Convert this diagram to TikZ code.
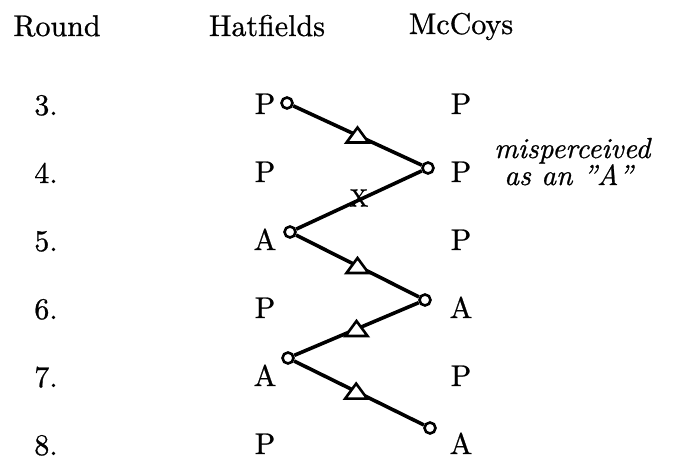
\documentclass[tikz,border=0pt]{standalone}
\usepackage{fontspec}
\setmainfont{lmroman10-regular.otf}[ItalicFont=lmroman10-italic.otf, FakeBold=0.8]
\usepackage{tikz}
\usetikzlibrary{calc,positioning}

\begin{document}
\begin{tikzpicture}[x=1pt,y=-1pt,
    every node/.style={font=\fontsize{30}{36}\selectfont, inner sep=0pt},
    move/.style={line width=3.6pt},
    dot/.style={circle, draw, line width=2.6pt, fill=white, minimum size=11pt, inner sep=0pt},
    note/.style={font=\fontsize{29}{30}\itshape\selectfont},
    tri/.pic={\draw[line width=2.6pt, fill=white] (-11,7) -- (11,7) -- (0,-8) -- cycle;}]
    \def\dy{68}
    \useasboundingbox (0,0) rectangle (675,461);
    %Headers
    \node[anchor=base] (round) at (57,36) {Round};
    \node[anchor=base] (hat) at (267,36) {Hatfields};
    \node[anchor=base] (mcc) at (461,34) {McCoys};
    %Rows
    \foreach \r/\h/\m [count=\i from 0] in {3/P/P,4/P/P,5/A/P,6/P/A,7/A/P,8/P/A}{
        \node[anchor=base] (r\r) at (46,115+\dy*\i) {\r.};
        \node[anchor=base] (h\r) at (265,114+\dy*\i) {\h};
        \node[anchor=base] (m\r) at (461,114+\dy*\i) {\m};
    }
    %Moves
    \node[dot] (c3) at (287,103) {};
    \node[dot] (c4) at (428,168) {};
    \node[dot] (c5) at (290,232) {};
    \node[dot] (c6) at (425,300) {};
    \node[dot] (c7) at (288,358) {};
    \node[dot] (c8) at (430,428) {};
    %Draw edges
    \draw[move] (c3) -- (c4);
    \draw[move] (c4) -- node[font=\fontsize{25}{25}\selectfont, yshift=2pt] (x) {X} (c5);
    \draw[move] (c5) -- (c6);
    \draw[move] (c6) -- (c7);
    \draw[move] (c7) -- (c8);
    %Triangles
    \pic at ($(c3)!.5!(c4)$) {tri};
    \pic at ($(c5)!.5!(c6)$) {tri};
    \pic at ($(c6)!.5!(c7)$) {tri};
    \pic at ($(c7)!.48!(c8)$) {tri};
    %Note
    \node[note, anchor=base west] (mis) at (494,158) {misperceived};
    \node[note, anchor=base west] (asA) at ([xshift=10pt, yshift=-27pt]mis.base west) {as an "A"};
\end{tikzpicture}
\end{document}
